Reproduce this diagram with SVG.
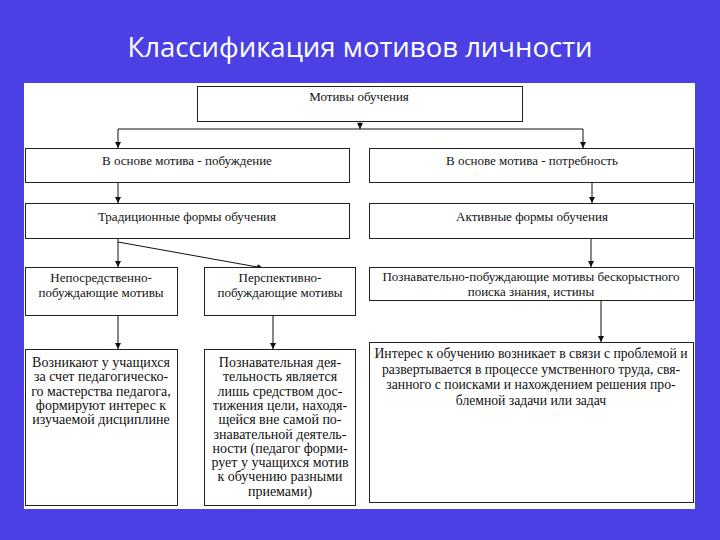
<svg xmlns="http://www.w3.org/2000/svg" width="720" height="540" viewBox="0 0 720 540">
<style>
.box{fill:#ffffff;stroke:#222;stroke-width:1}
.t{font-family:"Liberation Serif","Times New Roman",serif;font-size:13px;fill:#111;text-anchor:middle}
.tb{font-family:"Liberation Serif","Times New Roman",serif;font-size:14px;fill:#111;text-anchor:middle}
.tr{font-family:"Liberation Serif","Times New Roman",serif;font-size:13.7px;fill:#111;text-anchor:middle}
.c{fill:none;stroke:#111;stroke-width:1}
.title{font-family:"Open Sans","Noto Sans",sans-serif;font-size:27.5px;fill:#ffffff;text-anchor:middle}
</style>
<defs>
<marker id="ah" markerUnits="userSpaceOnUse" markerWidth="7" markerHeight="7" refX="6" refY="3" orient="auto">
<path d="M0,0 L6,3 L0,6 z" fill="#111"/>
</marker>
</defs>
<rect x="0" y="0" width="720" height="540" fill="#4a40e4"/>
<text class="title" x="360" y="57">Классификация мотивов личности</text>
<rect x="24" y="83" width="671" height="426" fill="#fffffd"/>

<g id="connectors">
<path class="c" d="M360,121 V129" marker-end="url(#ah)"/>
<path class="c" d="M118,129 H583"/>
<path class="c" d="M118,129 V148" marker-end="url(#ah)"/>
<path class="c" d="M583,129 V148" marker-end="url(#ah)"/>
<path class="c" d="M118,182 V203" marker-end="url(#ah)"/>
<path class="c" d="M592,182 V203" marker-end="url(#ah)"/>
<path class="c" d="M118,238 V267" marker-end="url(#ah)"/>
<path class="c" d="M118,242 L263,268" marker-end="url(#ah)"/>
<path class="c" d="M591,238 V267" marker-end="url(#ah)"/>
<path class="c" d="M118,315 V349" marker-end="url(#ah)"/>
<path class="c" d="M273,315 V349" marker-end="url(#ah)"/>
<path class="c" d="M601,300 V342" marker-end="url(#ah)"/>
</g>

<g id="n-motivy">
<rect class="box" x="197.5" y="86.5" width="325" height="35"/>
<text class="t" x="359" y="101">Мотивы обучения</text>
</g>
<g id="n-pobuzhdenie">
<rect class="box" x="25.5" y="148.5" width="324" height="34"/>
<text class="t" x="187" y="165">В основе мотива - побуждение</text>
</g>
<g id="n-potrebnost">
<rect class="box" x="369.5" y="148.5" width="324" height="34"/>
<text class="t" x="532" y="165">В основе мотива - потребность</text>
</g>
<g id="n-tradic">
<rect class="box" x="25.5" y="203.5" width="324" height="35"/>
<text class="t" x="187" y="221">Традиционные формы обучения</text>
</g>
<g id="n-aktiv">
<rect class="box" x="369.5" y="203.5" width="324" height="35"/>
<text class="t" x="532" y="221">Активные формы обучения</text>
</g>
<g id="n-neposr">
<rect class="box" x="25.5" y="267.5" width="152" height="48"/>
<text class="t" x="101" y="282">Непосредственно-</text>
<text class="t" x="101" y="297">побуждающие мотивы</text>
</g>
<g id="n-perspekt">
<rect class="box" x="204.5" y="267.5" width="151" height="48"/>
<text class="t" x="280" y="282">Перспективно-</text>
<text class="t" x="280" y="297">побуждающие мотивы</text>
</g>
<g id="n-poznav">
<rect class="box" x="369.5" y="267.5" width="324" height="33"/>
<text class="t" x="531" y="281">Познавательно-побуждающие мотивы бескорыстного</text>
<text class="t" x="531" y="296">поиска знания, истины</text>
</g>
<g id="n-voznikayut">
<rect class="box" x="25.5" y="349.5" width="152" height="156"/>
<text class="tb" x="101" y="367">Возникают у учащихся</text>
<text class="tb" x="101" y="381.3">за счет педагогическо-</text>
<text class="tb" x="101" y="395.6">го мастерства педагога,</text>
<text class="tb" x="101" y="409.9">формируют интерес к</text>
<text class="tb" x="101" y="424.2">изучаемой дисциплине</text>
</g>
<g id="n-poznavdeyat">
<rect class="box" x="204.5" y="349.5" width="151" height="156"/>
<text class="tb" x="280" y="367">Познавательная дея-</text>
<text class="tb" x="280" y="381.3">тельность является</text>
<text class="tb" x="280" y="395.6">лишь средством дос-</text>
<text class="tb" x="280" y="409.9">тижения цели, находя-</text>
<text class="tb" x="280" y="424.2">щейся вне самой по-</text>
<text class="tb" x="280" y="438.5">знавательной деятель-</text>
<text class="tb" x="280" y="452.8">ности (педагог форми-</text>
<text class="tb" x="280" y="467.1">рует у учащихся мотив</text>
<text class="tb" x="280" y="481.4">к обучению разными</text>
<text class="tb" x="280" y="495.7">приемами)</text>
</g>
<g id="n-interes">
<rect class="box" x="369.5" y="342.5" width="324" height="160"/>
<text class="tr" x="531" y="358">Интерес к обучению возникает в связи с проблемой и</text>
<text class="tr" x="531" y="373.5">развертывается в процессе умственного труда, свя-</text>
<text class="tr" x="531" y="389">занного с поисками и нахождением решения про-</text>
<text class="tr" x="531" y="404.5">блемной задачи или задач</text>
</g>
</svg>
